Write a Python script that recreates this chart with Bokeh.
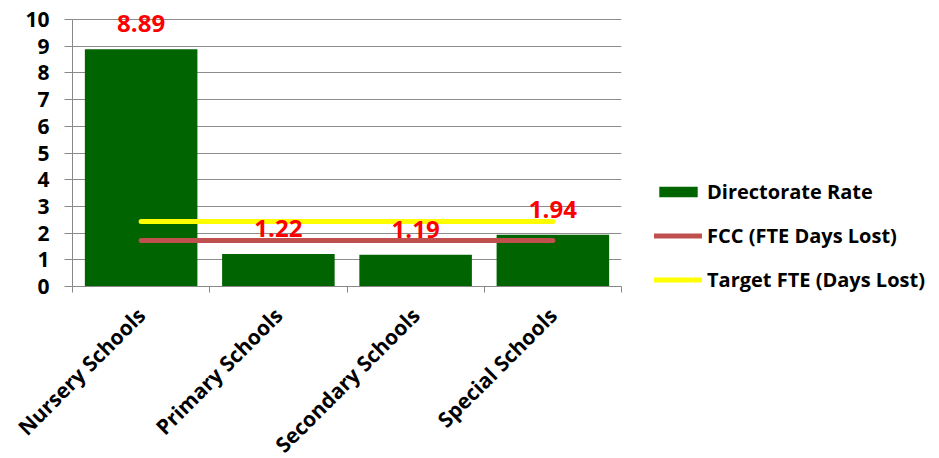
from bokeh.plotting import figure
from bokeh.models import (Range1d, FixedTicker, ColumnDataSource, LabelSet,
                          Legend, LegendItem)
from bokeh.core.properties import value
from bokeh.embed import file_html
from bokeh.resources import INLINE

categories = ["Nursery Schools", "Primary Schools", "Secondary Schools", "Special Schools"]
directorate_rate = [8.89, 1.22, 1.19, 1.94]
fcc_days_lost = [1.72, 1.72, 1.72, 1.72]
target_fte = [2.43, 2.43, 2.43, 2.43]
rate_labels = ["8.89", "1.22", "1.19", "1.94"]
y_ticks = [0, 1, 2, 3, 4, 5, 6, 7, 8, 9, 10]

FONT = "Open Sans"
centers = [i + 0.5 for i in range(len(categories))]
bounds = [float(i) for i in range(len(categories) + 1)]

p = figure(frame_width=549, frame_height=275, output_backend="svg",
           toolbar_location=None,
           x_range=Range1d(0, len(categories)), y_range=Range1d(0, 10.3),
           min_border_left=72, min_border_top=11, min_border_bottom=0,
           min_border_right=0)
p.outline_line_color = None
p.background_fill_color = "white"
p.border_fill_color = "white"

src = ColumnDataSource(dict(x=centers, rate=directorate_rate, fcc=fcc_days_lost,
                            tgt=target_fte, lbl=rate_labels))

bars = p.vbar(x="x", top="rate", width=0.82, bottom=0, source=src,
              fill_color="#006400", line_color=None)
fcc = p.line(x="x", y="fcc", source=src, line_color="#C0504D", line_width=5,
             line_cap="round")
tgt = p.line(x="x", y="tgt", source=src, line_color="#FFFF00", line_width=5,
             line_cap="round")

labels = LabelSet(x="x", y="rate", text="lbl", source=src, text_align="center",
                  text_baseline="alphabetic", y_offset=17, text_color="#FF0000",
                  text_font=value(FONT), text_font_style="bold",
                  text_font_size="24px")
p.add_layout(labels)

# x axis
xa = p.xaxis[0]
xa.ticker = FixedTicker(ticks=centers, minor_ticks=bounds)
xa.major_label_overrides = {c: n for c, n in zip(centers, categories)}
xa.major_tick_out = 0
xa.major_tick_in = 0
xa.minor_tick_out = 6
xa.minor_tick_in = 0
xa.minor_tick_line_color = "#888888"
xa.axis_line_color = "#888888"
xa.major_label_orientation = 0.785398
xa.major_label_text_font = FONT
xa.major_label_text_font_style = "bold"
xa.major_label_text_font_size = "21px"
xa.major_label_text_color = "black"
xa.major_label_standoff = 19

# y axis
ya = p.yaxis[0]
ya.ticker = FixedTicker(ticks=y_ticks)
ya.bounds = (0, 10)
ya.minor_tick_line_color = None
ya.major_tick_out = 8
ya.major_tick_in = 0
ya.major_tick_line_color = "#888888"
ya.axis_line_color = "#888888"
ya.major_label_text_font = FONT
ya.major_label_text_font_style = "bold"
ya.major_label_text_font_size = "21px"
ya.major_label_text_color = "black"
ya.major_label_standoff = 15

p.xgrid.grid_line_color = None
p.ygrid.ticker = FixedTicker(ticks=y_ticks)
p.ygrid.grid_line_color = "#8C8C8C"
p.ygrid.grid_line_width = 1

legend = Legend(items=[
    LegendItem(label="Directorate Rate", renderers=[bars]),
    LegendItem(label="FCC (FTE Days Lost)", renderers=[fcc]),
    LegendItem(label="Target FTE (Days Lost)", renderers=[tgt]),
], location=(33, -7))
legend.border_line_color = None
legend.background_fill_alpha = 0
legend.padding = 0
legend.margin = 0
legend.glyph_width = 48
legend.glyph_height = 13
legend.label_height = 20
legend.label_standoff = 5
legend.spacing = 17
legend.label_text_font = FONT
legend.label_text_font_style = "bold"
legend.label_text_font_size = "20px"
legend.label_text_color = "black"
p.add_layout(legend, "right")

open("out.html", "w").write(file_html(p, INLINE))
